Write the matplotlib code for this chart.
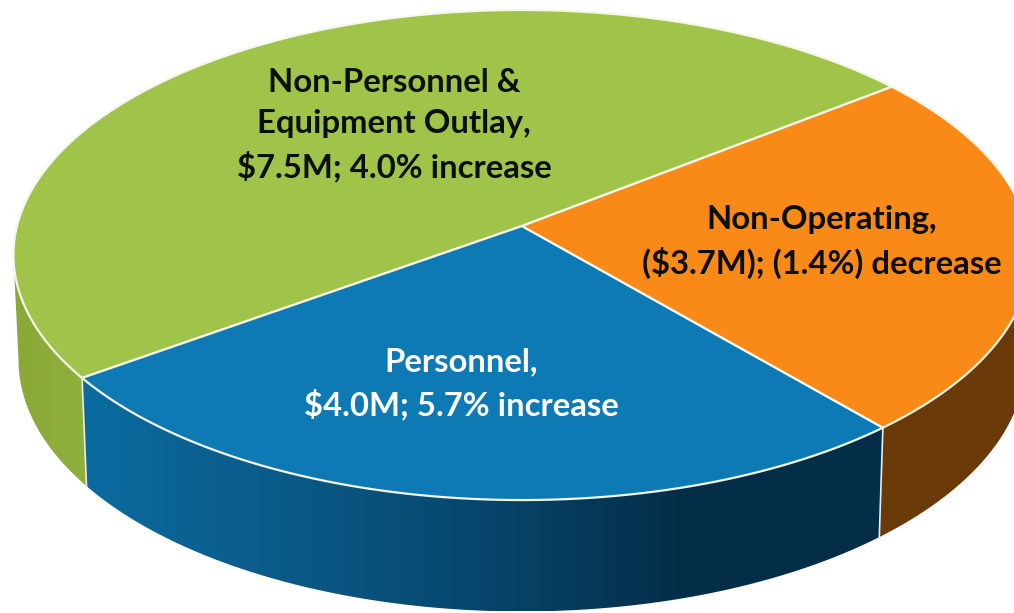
import numpy as np
import matplotlib
matplotlib.use('Agg')
import matplotlib.pyplot as plt
from matplotlib.colors import LinearSegmentedColormap
from matplotlib.patches import Polygon

# budget change in $M (shares drive the slice angles)
categories = ['Non-Personnel &\nEquipment Outlay,', 'Personnel,', 'Non-Operating,']
values = [7.5, 4.0, 3.7]
notes = ['$7.5M; 4.0% increase', '$4.0M; 5.7% increase', '($3.7M); (1.4%) decrease']
top_colors = ['#a0c449', '#0d7ab5', '#f98a17']
label_colors = ['#0b0f05', '#ffffff', '#0b0f05']
label_pos = [(394, 125), (461, 384), (822, 242)]
wall_colors = [['#8aa836', '#90b03c'], ['#0b6ba0', '#0a5a88', '#07466c', '#042e48', '#042e48'], ['#6a3a08', '#6a3a08']]

cx, cy = 522, 226      # apex of the pie on the page
bx, ay = 505, 241.6    # radii before foreshortening
k = 0.1184             # perspective strength
depth = 104
shrink = 0.99
shrink_y = 1.027
start = 38.2


def project(theta, dy=0, s=1.0, sy=1.0):
    # unit circle angle (degrees) to page pixels
    t = np.radians(theta)
    X, Y = np.cos(t), np.sin(t)
    w = 1 + k * Y
    return cx + s * bx * X / w, cy - sy * ay * Y / w + dy


def arc(t1, t2, dy=0, s=1.0, sy=1.0, n=200):
    x, y = project(np.linspace(t1, t2, n), dy, s, sy)
    return np.column_stack([x, y])


fig = plt.figure(figsize=(10.14, 6.13), dpi=100)
ax = fig.add_axes([0, 0, 1, 1])

wedges = ax.pie(values, startangle=start, colors=top_colors)[0]
thetas = [(w.theta1, w.theta2) for w in wedges]
for w in wedges:
    w.remove()

ax.set_aspect('auto')
ax.set_xlim(0, 1014)
ax.set_ylim(613, 0)
ax.axis('off')

# side walls, only the part of the rim facing the viewer
sil_left, sil_right = 186.8, 353.2
for (t1, t2), cols in zip(thetas, wall_colors):
    ranges = []
    for a, b in [(t1, t2), (t1 - 360, t2 - 360)]:
        lo, hi = max(a, sil_left), min(b, sil_right)
        if hi > lo:
            ranges.append((lo, hi))
    for lo, hi in ranges:
        pts = np.vstack([arc(lo, hi), arc(hi, lo, depth, shrink, shrink_y)])
        x0, x1 = pts[:, 0].min(), pts[:, 0].max()
        poly = Polygon(pts, closed=True, fc='none', ec='none')
        ax.add_patch(poly)
        cmap = LinearSegmentedColormap.from_list('wall', cols)
        grad = np.linspace(0, 1, 256).reshape(1, -1)
        im = ax.imshow(grad, cmap=cmap, extent=[x0, x1, pts[:, 1].max(), pts[:, 1].min()],
                       aspect='auto', zorder=1)
        im.set_clip_path(poly)

# tops of the slices
for (t1, t2), col in zip(thetas, top_colors):
    pts = np.vstack([[cx, cy], arc(t1, t2)])
    ax.add_patch(Polygon(pts, closed=True, fc=col, ec='#f4f7ea', lw=1.6, zorder=2))

# white seams between the walls
for t in [t % 360 for t, _ in thetas]:
    if sil_left < t < sil_right:
        x0, y0 = project(t)
        x1, y1 = project(t, depth, shrink, shrink_y)
        ax.plot([x0, x1], [y0, y1], color='#e8ecea', lw=1.2, zorder=3)

ax.set_xlim(0, 1014)
ax.set_ylim(613, 0)

for cat, note, col, pos in zip(categories, notes, label_colors, label_pos):
    ax.text(pos[0], pos[1], cat + '\n' + note, color=col, ha='center', va='center',
            family='Lato', weight='bold', fontsize=23.7, linespacing=1.48, zorder=4)

fig.savefig('out.png', dpi=100)
